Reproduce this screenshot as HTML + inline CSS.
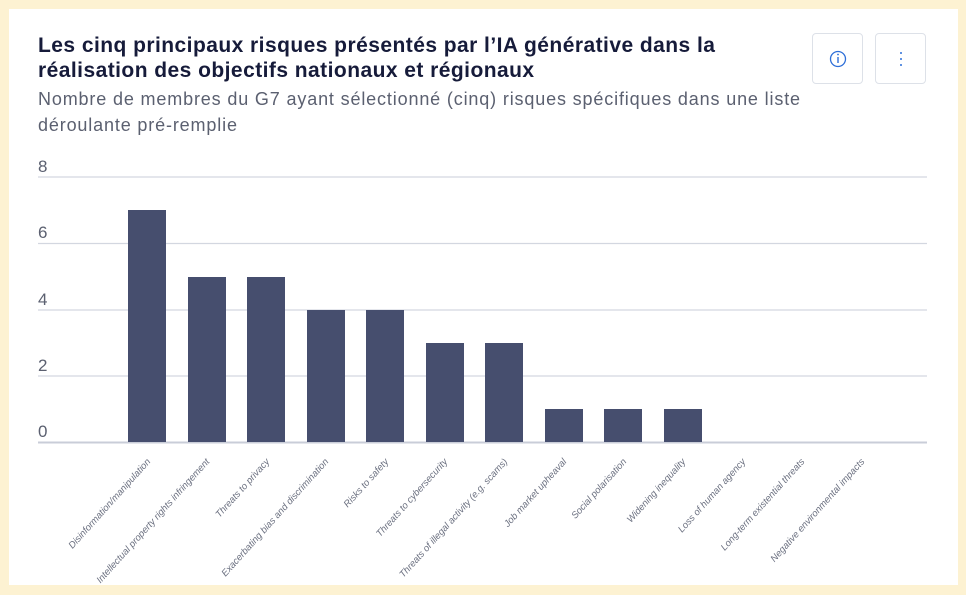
<!DOCTYPE html>
<html><head><meta charset="utf-8"><style>
html,body{margin:0;padding:0;}
body{width:966px;height:595px;background:#fdf2d2;position:relative;overflow:hidden;font-family:"Liberation Sans",sans-serif;}
.card{position:absolute;left:9px;top:9px;width:949px;height:576px;background:#fff;}
.t{position:absolute;left:38px;top:33px;font-size:21px;font-weight:bold;color:#161b3a;line-height:25px;letter-spacing:0.45px;white-space:nowrap;}
.s{position:absolute;left:38px;top:86px;font-size:18px;color:#5b6070;line-height:26px;letter-spacing:0.85px;white-space:nowrap;}
.b{position:absolute;top:33px;width:51px;height:51px;border:1px solid #dde1e8;border-radius:4px;box-sizing:border-box;}
</style></head><body>
<div class="card"></div>
<div class="t">Les cinq principaux risques présentés par l’IA générative dans la<br>réalisation des objectifs nationaux et régionaux</div>
<div class="s">Nombre de membres du G7 ayant sélectionné (cinq) risques spécifiques dans une liste<br>déroulante pré-remplie</div>
<div class="b" style="left:812px"><svg width="51" height="51"><circle cx="25" cy="25" r="7.5" fill="none" stroke="#2e6fd8" stroke-width="1.3"/><line x1="25" y1="23" x2="25" y2="29" stroke="#2e6fd8" stroke-width="1.4"/><circle cx="25" cy="20.5" r="0.9" fill="#2e6fd8"/></svg></div>
<div class="b" style="left:875px"><svg width="51" height="51"><circle cx="25" cy="19" r="1" fill="#2e6fd8"/><circle cx="25" cy="25" r="1" fill="#2e6fd8"/><circle cx="25" cy="31" r="1" fill="#2e6fd8"/></svg></div>
<svg style="position:absolute;left:0;top:0" width="966" height="595" font-family="Liberation Sans, sans-serif">
<g stroke="#d3d7e0" stroke-width="1.3">
<line x1="38" x2="927" y1="177" y2="177"/><line x1="38" x2="927" y1="243.5" y2="243.5"/><line x1="38" x2="927" y1="310" y2="310"/><line x1="38" x2="927" y1="376" y2="376"/><line x1="38" x2="927" y1="442.5" y2="442.5" stroke="#c9cdd8" stroke-width="2"/>
</g>
<g fill="#5b6070" font-size="17">
<text x="38" y="172">8</text><text x="38" y="238">6</text><text x="38" y="305">4</text><text x="38" y="371">2</text><text x="38" y="437">0</text>
</g>
<g fill="#464e6e">
<rect x="128" y="210" width="38" height="232"/>
<rect x="188" y="277" width="38" height="165"/>
<rect x="247" y="277" width="38" height="165"/>
<rect x="307" y="310" width="38" height="132"/>
<rect x="366" y="310" width="38" height="132"/>
<rect x="426" y="343" width="38" height="99"/>
<rect x="485" y="343" width="38" height="99"/>
<rect x="545" y="409" width="38" height="33"/>
<rect x="604" y="409" width="38" height="33"/>
<rect x="664" y="409" width="38" height="33"/>
</g>
<g fill="#6b7080" font-size="9.5" font-style="italic" text-anchor="end">
<text transform="translate(151,462) rotate(-48)">Disinformation/manipulation</text>
<text transform="translate(210,462) rotate(-48)">Intellectual property rights infringement</text>
<text transform="translate(270,462) rotate(-48)">Threats to privacy</text>
<text transform="translate(329,462) rotate(-48)">Exacerbating bias and discrimination</text>
<text transform="translate(389,462) rotate(-48)">Risks to safety</text>
<text transform="translate(448,462) rotate(-48)">Threats to cybersecurity</text>
<text transform="translate(508,462) rotate(-48)">Threats of illegal activity (e.g. scams)</text>
<text transform="translate(567,462) rotate(-48)">Job market upheaval</text>
<text transform="translate(627,462) rotate(-48)">Social polarisation</text>
<text transform="translate(686,462) rotate(-48)">Widening inequality</text>
<text transform="translate(746,462) rotate(-48)">Loss of human agency</text>
<text transform="translate(805,462) rotate(-48)">Long-term existential threats</text>
<text transform="translate(865,462) rotate(-48)">Negative environmental impacts</text>
</g>
</svg>
</body></html>
